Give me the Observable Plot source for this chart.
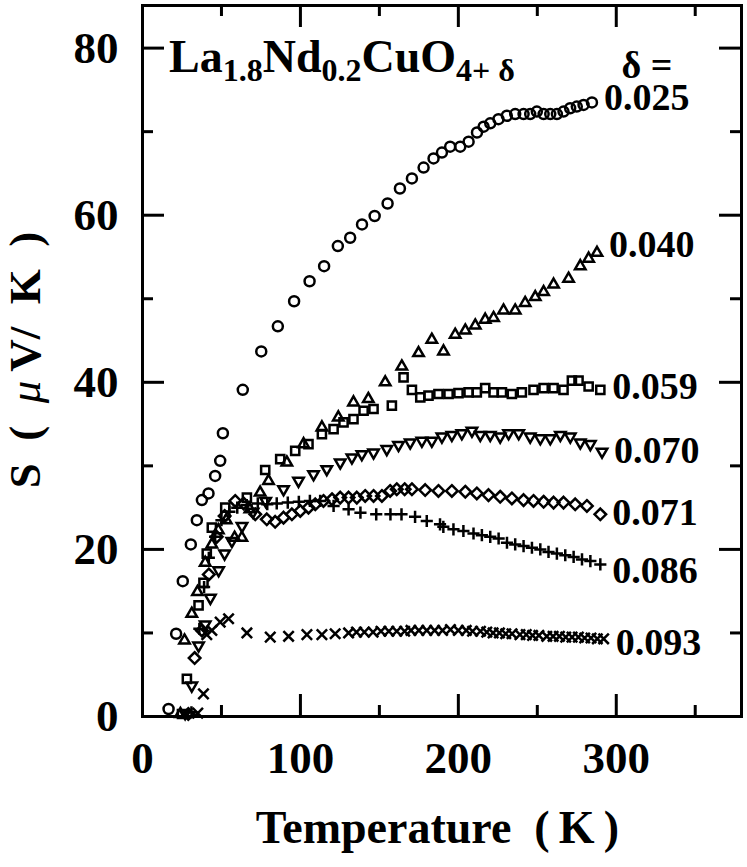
<!DOCTYPE html>
<html><head><meta charset="utf-8">
<script src="https://cdn.jsdelivr.net/npm/d3@7"></script>
<script src="https://cdn.jsdelivr.net/npm/@observablehq/plot@0.6"></script>
<style>
body{margin:0;background:#fff}
#chart{width:747px;height:867px}
</style>
</head><body><div id="chart"></div>
<script>
// ---- data (T in K, S in µV/K) ----
const deltas = ["0.025","0.040","0.059","0.070","0.071","0.086","0.093"];
const labelS = [74.0, 56.4, 39.4, 31.8, 24.4, 17.4, 8.8];

const s025 = [[16.5,0.9],[21.3,9.9],[25.5,16.2],[30.6,20.6],[34.4,23.5],[37.6,25.9],[41.8,26.7],[46,28.8],[49.2,30.6],[50.9,33.9],[63.5,39.1],[75.2,43.7],[85.7,46.7],[96,49.7],[105.8,52.1],[115,53.9],[123.7,56.3],[131.5,57.3],[139,58.9],[147,59.9],[155.2,61.4],[163,63.2],[170.6,64.4],[178,65.7],[184.3,66.8],[189.6,67.5],[194.8,68.2],[201.2,68.2],[206.5,68.8],[211.8,69.9],[216,70.6],[220.2,71.0],[225.4,71.5],[230.7,71.9],[236,72.1],[241.3,72.1],[245.5,72.1],[249.7,72.4],[254,72.1],[258.2,72.1],[262.4,72.1],[266.6,72.4],[270.8,72.8],[275,73.0],[279.3,73.2],[284.6,73.5]];
const s040 = [[24,0.3],[26.6,9.1],[31.2,12.3],[34.8,14.9],[39.7,18.4],[43.9,20.6],[48,22.3],[53,23.5],[58.3,21.4],[62.9,21.4],[68,24.8],[74.5,26.8],[79.8,28.2],[91.4,30.4],[102,32.6],[113.6,34.6],[124,35.8],[133.6,37.6],[143,38],[153.7,40],[164.2,41.9],[174.8,43.5],[183.2,45.1],[190.6,43.7],[198,45.7],[204.4,46.2],[210.7,46.8],[217,47.5],[222.3,47.7],[228.6,48.6],[236,48.6],[242.3,49.5],[248.7,50.2],[254,50.8],[260.3,51.7],[269.8,52.4],[277.2,53.9],[282.5,54.8],[287.8,55.5]];
const s059 = [[25,0.3],[28.1,4.5],[35.5,13.3],[38.6,16.0],[40.7,19.5],[43.9,22.6],[52.4,25.0],[66.1,26.2],[77.7,29.5],[87.2,30.8],[96.7,31.8],[105.1,32.6],[113.6,33.8],[121,34.4],[127.3,35.2],[133.6,35.6],[140,36.6],[146.3,36.8],[157.9,37.2],[165.3,40.6],[170.6,39.1],[175.9,38.2],[181.1,38.4],[187.4,38.6],[193.8,38.6],[200.1,38.7],[206.5,38.8],[211.7,38.8],[217,39.3],[222.3,38.8],[227.6,38.8],[233.9,38.6],[240.2,38.8],[247.6,39.1],[254,39.3],[260.3,39.3],[266.6,39.1],[271.9,40.2],[276.1,40.2],[282.5,39.5],[289.9,39.1]];
const s070 = [[27,0.4],[31.2,3.7],[35.5,8.5],[39.7,11.0],[43,14.2],[48.2,17.5],[52,19.5],[56.6,21],[63,22.8],[70,24.5],[78,25.8],[89.3,27.2],[98.8,28.2],[108.3,29.0],[116.7,29.6],[125.2,30.4],[132.6,31.0],[138.9,31.4],[146.3,31.6],[154.7,32.0],[162.1,32.5],[169.5,32.8],[176.9,33.0],[183.2,33.0],[189.6,33.5],[195.9,33.7],[202.2,33.9],[208.6,34.2],[213.9,33.7],[220.2,33.7],[226.5,33.5],[231.8,33.9],[238.2,33.9],[245.5,33.5],[251.9,33.3],[258.2,33.3],[264.6,33.7],[270.9,33.5],[277.2,32.8],[283.6,32.6],[291,31.7]];
const s071 = [[29,0.3],[33,7],[37.6,10.3],[42,17],[47,21.5],[52,24],[58.7,25.8],[64,25.5],[71.4,24.2],[78.7,23.6],[84,23.3],[89.3,23.8],[94.6,24.2],[99.9,24.6],[105.1,25.0],[109.4,25.4],[114.6,25.8],[120,26.0],[125.2,26.2],[130.5,26.2],[135.7,26.2],[141,26.4],[146.3,26.4],[151.6,26.4],[156.8,27.0],[161,27.2],[166,27.2],[170.6,27.2],[179,27.1],[187.4,27.0],[195.9,27.0],[204.4,26.9],[211.7,26.7],[219.1,26.5],[226.5,26.3],[233.9,26.1],[241.3,25.9],[247.6,25.8],[254,25.7],[260.3,25.6],[266.6,25.6],[274,25.4],[281.4,25.2],[289.9,24.2]];
const s086 = [[31,0.5],[36,10.5],[39,15.5],[42,19],[46,21.5],[50,23.5],[55,24.5],[60,25],[66,25.3],[73,25.5],[79,25.4],[85,25.5],[92,25.6],[99,25.7],[106,25.8],[112.5,25.8],[121,25.2],[130.5,24.8],[138,24.4],[148,24.2],[157,24.2],[164,24.2],[172.6,23.9],[180,23.4],[188.4,23.0],[190.5,22.7],[196.9,22.4],[203.2,22.2],[209.6,21.9],[214.9,21.7],[220.2,21.5],[225.5,21.3],[230.8,20.8],[236,20.6],[241.3,20.4],[246.6,20.2],[251.9,20.0],[257.1,19.7],[262.4,19.5],[267.7,19.3],[273,19.1],[278.3,18.8],[283.6,18.6],[289.9,18.2]];
const s093 = [[35,0.4],[38.6,2.7],[40.7,9.8],[43.9,10.3],[49.2,11.3],[54.5,11.7],[66.1,10.0],[80.9,9.5],[92.5,9.6],[104.1,9.8],[113.6,9.8],[122,9.9],[130.5,10.0],[135.5,10.1],[140.5,10.1],[146,10.1],[151,10.2],[156,10.2],[161,10.2],[166,10.2],[170,10.3],[175,10.3],[180,10.3],[185,10.3],[190,10.3],[195,10.4],[200,10.3],[205,10.3],[209,10.2],[214,10.2],[218,10.1],[222,10.0],[226,10.0],[230,9.9],[234,9.9],[239,9.8],[243,9.8],[247,9.7],[251,9.7],[256,9.6],[260,9.6],[264,9.6],[268,9.5],[272,9.5],[276,9.5],[280,9.4],[284,9.4],[288,9.3],[292,9.3]];

const xMajor = [0,100,200,300], xMinor = [50,150,250,350];
const yMajor = [0,20,40,60,80], yMinor = [10,30,50,70];

// ---- layout ----
const W = 747, H = 867, mL = 142, mR = 6, mT = 5, mB = 151;
const xDom = [0, 379.3], yDom = [0, 85.1];
const pxX = (W - mL - mR) / (xDom[1] - xDom[0]);
const pxY = (H - mT - mB) / (yDom[1] - yDom[0]);
const majLen = 22, minLen = 11;
const FONT = "'Liberation Serif','Times New Roman',serif";

const triDown = {draw(ctx, size) {
  const s = Math.sqrt(size) * 0.6824, t = s / 2, u = s * Math.sqrt(3) / 2;
  ctx.moveTo(0, s); ctx.lineTo(u, -t); ctx.lineTo(-u, -t); ctx.closePath();
}};

const seriesList = [s025, s040, s059, s070, s071, s086, s093];
const symbols = ["circle", d3.symbolTriangle2, d3.symbolSquare2, triDown, d3.symbolDiamond2, d3.symbolPlus, d3.symbolTimes];
const radii = [5, 5, 5.2, 5, 5.2, 4, 4.8];

const toRows = arr => arr.map(([T, S]) => ({T, S}));
const labels = deltas.map((d, i) => ({delta: d, T: seriesList[i][seriesList[i].length - 1][0], S: labelS[i]}));

const tickRule = (vals, len, side) => {
  if (side === "bottom") return Plot.ruleX(vals, {x: d => d, y1: yDom[0], y2: yDom[0] + len / pxY, strokeWidth: 3});
  if (side === "top") return Plot.ruleX(vals, {x: d => d, y1: yDom[1], y2: yDom[1] - len / pxY, strokeWidth: 3});
  if (side === "left") return Plot.ruleY(vals, {y: d => d, x1: xDom[0], x2: xDom[0] + len / pxX, strokeWidth: 3});
  return Plot.ruleY(vals, {y: d => d, x1: xDom[1], x2: xDom[1] - len / pxX, strokeWidth: 3});
};

const marks = [];
for (const side of ["bottom","top"]) { marks.push(tickRule(xMajor, majLen, side), tickRule(xMinor, minLen, side)); }
for (const side of ["left","right"]) { marks.push(tickRule(yMajor, majLen, side), tickRule(yMinor, minLen, side)); }
seriesList.forEach((s, i) => {
  marks.push(Plot.dot(toRows(s), {x: "T", y: "S", symbol: symbols[i], r: radii[i], stroke: "black", fill: "none", strokeWidth: 2.5}));
});
marks.push(
  Plot.frame({stroke: "black", strokeWidth: 3}),
  Plot.axisX(xMajor, {anchor: "bottom", tickSize: 0, tickPadding: 25, fontSize: 45, fontWeight: "bold", label: null}),
  Plot.axisY(yMajor, {anchor: "left", tickSize: 0, tickPadding: 24, fontSize: 45, fontWeight: "bold", label: null}),
  Plot.text(labels, {x: "T", y: "S", text: "delta", dx: 12, textAnchor: "start", fontSize: 38, fontWeight: "bold"}),
  Plot.text(["δ ="], {frameAnchor: "top-right", lineAnchor: "bottom", textAnchor: "end", dx: -69, dy: 72, fontSize: 38, fontWeight: "bold"})
);

const plot = Plot.plot({
  width: W, height: H,
  marginLeft: mL, marginRight: mR, marginTop: mT, marginBottom: mB,
  style: {fontFamily: FONT, background: "white", color: "black", overflow: "visible"},
  x: {domain: xDom, label: null},
  y: {domain: yDom, label: null},
  marks
});
document.getElementById("chart").appendChild(plot);

// ---- titles with sub/superscripts ----
const svg = d3.select(plot);
const title = svg.append("text").attr("x", 169).attr("y", 72).attr("text-anchor", "start")
  .attr("font-family", FONT).attr("font-weight", "bold").attr("font-size", 46).attr("fill", "black");
const parts = [["La",0],["1.8",1],["Nd",0],["0.2",1],["CuO",0],["4+ δ",1]];
let prevSub = 0;
for (const [t, sub] of parts) {
  const dy = sub === prevSub ? 0 : (sub ? 9 : -9);
  title.append("tspan").attr("dy", dy).attr("font-size", sub ? 32 : 46).text(t);
  prevSub = sub;
}

svg.append("text").attr("x", 437.5).attr("y", 843).attr("text-anchor", "middle")
  .attr("font-family", FONT).attr("font-weight", "bold").attr("font-size", 46).attr("fill", "black")
  .text("Temperature\u2002(\u2009K\u2009)");

const yl = svg.append("text").attr("transform", "translate(40,360) rotate(-90)").attr("text-anchor", "middle")
  .attr("font-family", FONT).attr("font-weight", "bold").attr("font-size", 45).attr("fill", "black");
yl.append("tspan").text("S\u2002(\u2002");
yl.append("tspan").attr("font-style", "italic").attr("font-weight", "normal").text("μ");
yl.append("tspan").text("\u2009V/\u2002K\u2002)");
</script>
</body></html>
